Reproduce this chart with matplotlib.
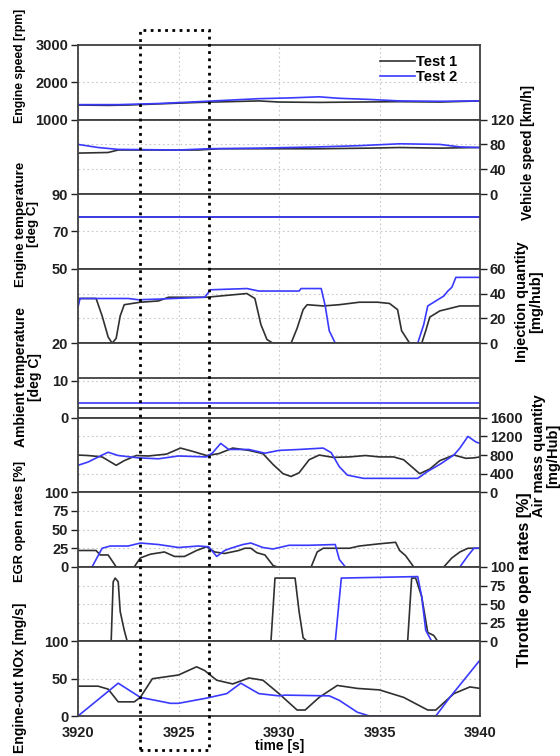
import matplotlib
matplotlib.use("Agg")
import matplotlib.pyplot as plt
from matplotlib.patches import Rectangle
from matplotlib.transforms import blended_transform_factory

plt.rcParams['font.family'] = ['Liberation Sans', 'DejaVu Sans']
plt.rcParams['font.weight'] = 'bold'

# ---- data (time [s], value) ----
# engine speed [rpm]
t_rpm1 = [3920, 3921.5, 3922.5, 3924, 3926, 3927.5, 3929, 3930, 3932, 3934, 3936, 3938, 3940]
rpm1 = [1390, 1380, 1390, 1420, 1460, 1480, 1500, 1470, 1460, 1470, 1480, 1470, 1500]
t_rpm2 = [3920, 3922, 3924, 3926, 3927.5, 3929, 3930.5, 3932, 3933, 3934.5, 3936, 3938, 3940]
rpm2 = [1400, 1400, 1430, 1480, 1520, 1560, 1580, 1610, 1570, 1540, 1500, 1490, 1500]

# vehicle speed [km/h]
t_veh1 = [3920, 3921.5, 3922, 3926, 3927, 3932, 3934.5, 3936, 3938, 3940]
veh1 = [66, 67, 71, 71, 73, 73, 74, 75, 74, 75]
t_veh2 = [3920, 3921, 3922, 3925, 3926.5, 3929, 3932, 3934, 3936, 3938, 3939, 3940]
veh2 = [80, 75, 72, 71, 73, 74, 76, 78, 81, 80, 76, 75]

# engine temperature [deg C]
t_eng = [3920, 3940]
eng1 = [77.5, 77.5]
eng2 = [77.7, 77.7]

# injection quantity [mg/hub]
t_inj1 = [3920, 3920.9, 3921.2, 3921.5, 3921.7, 3921.9, 3922.1, 3922.3, 3923.1, 3924, 3924.5,
          3926.4, 3928.4, 3928.8, 3929.1, 3929.4, 3929.7, 3930.6, 3930.9, 3931.2, 3931.4, 3932.2,
          3933, 3934, 3934.9, 3935.5, 3935.9, 3936.1, 3936.5, 3937.1, 3937.3, 3937.5, 3938,
          3938.5, 3939, 3940]
inj1 = [36, 36, 22, 5, 0, 4, 22, 31, 33, 34, 37,
        37, 40, 36, 15, 3, 0, 0, 12, 27, 31, 30,
        31, 33, 33, 32, 27, 10, 0, 0, 10, 21, 26,
        28, 30, 30]
t_inj2 = [3920, 3920.1, 3922.5, 3923, 3924, 3926.3, 3926.6, 3928.4, 3929, 3931, 3931.1, 3932.1,
          3932.3, 3932.5, 3932.8, 3936.9, 3937.2, 3937.4, 3937.8, 3938.2, 3938.4, 3938.6,
          3938.8, 3940]
inj2 = [29, 36, 36, 35, 35.5, 37, 43, 44, 42, 42, 44, 44,
        30, 10, 0, 0, 15, 30, 34, 38, 42, 45,
        53, 53]

# ambient temperature [deg C]
t_amb = [3920, 3940]
amb1 = [2.5, 2.5]
amb2 = [4.0, 4.0]

# air mass quantity [mg/Hub]
t_air1 = [3920, 3920.5, 3921.2, 3921.9, 3922.3, 3922.9, 3923.5, 3924.4, 3925.1, 3925.7, 3926.4,
          3927, 3927.7, 3928.5, 3929.2, 3929.7, 3930.2, 3930.6, 3931, 3931.5, 3932, 3932.7,
          3933.5, 3934.3, 3935, 3935.7, 3936.2, 3936.6, 3937, 3937.5, 3938, 3938.7, 3939.3,
          3939.7, 3940]
air1 = [800, 790, 760, 580, 680, 790, 780, 820, 950, 880, 790,
        830, 950, 900, 830, 600, 400, 340, 420, 700, 800, 750,
        760, 790, 760, 760, 700, 550, 400, 500, 680, 800, 730,
        740, 760]
t_air2 = [3920, 3920.5, 3921.2, 3921.5, 3922, 3923, 3924, 3925, 3926.4, 3926.7, 3927.1, 3927.5,
          3928.5, 3929.3, 3930, 3931, 3932.2, 3932.6, 3933, 3933.4, 3934.2, 3936.9, 3937.4,
          3938, 3938.7, 3939, 3939.4, 3939.8, 3940]
air2 = [580, 650, 800, 860, 790, 740, 720, 780, 760, 850, 1050, 920,
        920, 840, 900, 920, 950, 850, 550, 370, 300, 300, 450,
        600, 800, 950, 1200, 1080, 1050]

# EGR open rates [%]
t_egr1 = [3920, 3920.9, 3921.1, 3921.5, 3921.7, 3921.9, 3922.8, 3923.1, 3923.6, 3924.3, 3924.8,
          3925.3, 3925.9, 3926.4, 3926.8, 3927.3, 3928, 3928.3, 3928.6, 3928.9, 3929.3, 3929.7,
          3929.9, 3931.6, 3931.9, 3932.2, 3933.5, 3934, 3935, 3935.8, 3936, 3936.3, 3936.7,
          3938.2, 3938.6, 3939, 3939.4, 3940]
egr1 = [22, 22, 16, 16, 8, 0, 0, 12, 17, 20, 14,
        14, 22, 27, 20, 18, 22, 25, 25, 19, 16, 2,
        0, 0, 20, 25, 25, 28, 31, 33, 22, 15, 0,
        0, 12, 20, 25, 25]
t_egr2 = [3920, 3920.7, 3921.2, 3921.6, 3922.5, 3923.1, 3924, 3925, 3926, 3926.5, 3926.9, 3927.3,
          3927.6, 3928.2, 3928.6, 3929.2, 3929.7, 3930.5, 3931.5, 3932.8, 3933, 3933.3, 3939,
          3939.4, 3939.7, 3940]
egr2 = [0, 0, 25, 28, 28, 32, 30, 26, 28, 27, 14, 22,
        25, 30, 32, 26, 24, 29, 29, 30, 10, 0, 0,
        15, 25, 25]

# throttle open rates [%]
t_thr1 = [3920, 3921.65, 3921.75, 3921.85, 3922.0, 3922.1, 3922.3, 3922.45, 3929.6, 3929.8,
          3930.8, 3931.0, 3931.2, 3931.4, 3936.4, 3936.6, 3936.8, 3937.1, 3937.4, 3937.7,
          3937.9, 3940]
thr1 = [0, 0, 80, 85, 80, 40, 15, 0, 0, 85,
        85, 40, 5, 0, 0, 85, 85, 60, 12, 8,
        0, 0]
t_thr2 = [3920, 3932.8, 3933.1, 3936.9, 3937.1, 3937.3, 3937.6, 3940]
thr2 = [0, 0, 85, 87, 60, 15, 0, 0]

# engine-out NOx [mg/s]
t_nox1 = [3920, 3921, 3921.5, 3922, 3922.8, 3923.1, 3923.7, 3925, 3925.9, 3926.3, 3926.9,
          3927.7, 3928.5, 3929.2, 3930, 3930.9, 3931.3, 3932, 3932.9, 3933.9, 3935, 3936.2,
          3937.4, 3937.8, 3938.7, 3939.5, 3940]
nox1 = [40, 40, 36, 19, 19, 25, 50, 55, 66, 61, 48,
        43, 51, 48, 30, 8, 8, 25, 41, 37, 35, 25,
        8, 8, 30, 39, 37]
t_nox2 = [3920, 3922, 3923.1, 3924.6, 3925, 3926.4, 3927.4, 3928.1, 3929, 3930, 3930.3, 3932.5,
          3933, 3933.9, 3934.5, 3937.8, 3938.5, 3940]
nox2 = [0, 44, 25, 17, 17, 24, 30, 44, 30, 27, 28, 27,
        21, 5, 0, 0, 25, 75]

# ---- layout ----
c1 = '#303030'
c2 = '#3a3aff'
fig = plt.figure(figsize=(5.6, 7.56), dpi=100)

left, right = 78 / 560, 480 / 560
top, bottom = 1 - 45 / 756, 1 - 716 / 756
n = 9
h = (top - bottom) / n

panels = [
    ('L', (1000, 3000), [1000, 2000, 3000], t_rpm1, rpm1, t_rpm2, rpm2),
    ('R', (0, 120), [0, 40, 80, 120], t_veh1, veh1, t_veh2, veh2),
    ('L', (50, 90), [50, 70, 90], t_eng, eng1, t_eng, eng2),
    ('R', (0, 60), [0, 20, 40, 60], t_inj1, inj1, t_inj2, inj2),
    ('L', (0, 20), [0, 10, 20], t_amb, amb1, t_amb, amb2),
    ('R', (0, 1600), [0, 400, 800, 1200, 1600], t_air1, air1, t_air2, air2),
    ('L', (0, 100), [0, 25, 50, 75, 100], t_egr1, egr1, t_egr2, egr2),
    ('R', (0, 100), [0, 25, 50, 75, 100], t_thr1, thr1, t_thr2, thr2),
    ('L', (0, 100), [0, 50, 100], t_nox1, nox1, t_nox2, nox2),
]

axes = []
for i, (side, ylim, yt, ta, ya, tb, yb) in enumerate(panels):
    ax = fig.add_axes([left, top - (i + 1) * h, right - left, h])
    ax.plot(ta, ya, color=c1, lw=1.2, label='Test 1')
    ax.plot(tb, yb, color=c2, lw=1.2, label='Test 2')
    ax.set_xlim(3920, 3940)
    ax.set_ylim(*ylim)
    ax.set_yticks(yt)
    ax.set_xticks([3920, 3925, 3930, 3935, 3940])
    ax.grid(True, color='#c8c8c8', ls=(0, (1.5, 2.5)), lw=0.8)
    ax.set_axisbelow(True)
    for s in ax.spines.values():
        s.set_color('#404040')
        s.set_linewidth(1.3)
    if side == 'R':
        ax.yaxis.tick_right()
    ax.tick_params(axis='y', direction='out', length=5, width=1, colors='#202020',
                   labelsize=10.5, pad=2)
    ax.tick_params(axis='x', direction='out', length=0, labelsize=10.5, pad=7,
                   labelbottom=(i == n - 1), colors='#202020')
    axes.append(ax)

# extra separator in the ambient temperature panel
axes[4].axhline(10.8, color='#404040', lw=1.3)

# legend
axes[0].legend(loc='upper right', bbox_to_anchor=(0.975, 1.04), frameon=False,
               handlelength=2.4, handletextpad=0.05, labelspacing=0.05,
               prop={'size': 10.5, 'weight': 'bold'})

fig.text(0.5, 1 - 746 / 756, 'time [s]', ha='center', va='center', fontsize=10)


# axis titles
def lab(x, y, s, size):
    fig.text(x / 560, 1 - y / 756, s, rotation=90, ha='center', va='center',
             fontsize=size, multialignment='center', linespacing=1.0)


lab(20, 66, 'Engine speed [rpm]', 8.8)
lab(27, 224, 'Engine temperature\n[deg C]', 9.6)
lab(28, 377, 'Ambient temperature\n[deg C]', 10.0)
lab(20, 521, 'EGR open rates [%]', 9.4)
lab(20, 678, 'Engine-out NOx [mg/s]', 10.0)
lab(528, 152, 'Vehicle speed [km/h]', 9.8)
lab(529, 302, 'Injection quantity\n[mg/hub]', 10.5)
lab(546, 456, 'Air mass quantity\n[mg/Hub]', 10.5)
lab(524, 580, 'Throttle open rates [%]', 11.5)

# dotted highlight window
tr = blended_transform_factory(axes[-1].transData, fig.transFigure)
fig.add_artist(Rectangle((3923.1, 1 - 750 / 756), 3.4, (750 - 30) / 756, transform=tr,
                         fill=False, ec='black', lw=2, ls=(0, (1, 1.6)), clip_on=False))

fig.savefig('out.png', dpi=100)
